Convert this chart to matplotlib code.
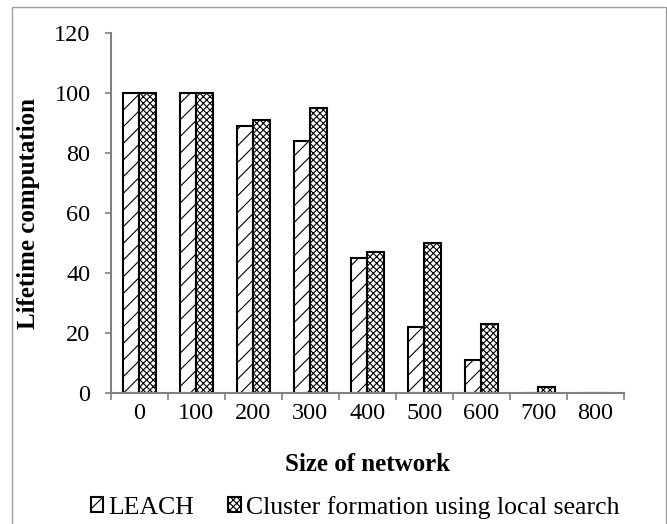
"""Lifetime computation vs size of network, grouped hatched bars"""
import matplotlib
matplotlib.use("Agg")
import matplotlib.pyplot as plt
import numpy as np
from matplotlib.patches import Rectangle

plt.rcParams['font.family'] = ['Liberation Serif', 'DejaVu Serif']
plt.rcParams['hatch.linewidth'] = 0.8

sizes = ['0', '100', '200', '300', '400', '500', '600', '700', '800']
leach = [100, 100, 89, 84, 45, 22, 11, 0, 0]
cluster = [100, 100, 91, 95, 47, 50, 23, 2, 0]

fig = plt.figure(figsize=(6.67, 5.24), dpi=100)
ax = fig.add_axes([0.166, 0.25, 0.7695, 0.687])

x = np.arange(len(sizes))
width = 0.29

ax.bar(x - width/2, leach, width, label='LEACH', color='white',
       edgecolor='black', linewidth=1.5, hatch='//')
ax.bar(x + width/2, cluster, width, label='Cluster formation using local search',
       color='white', edgecolor='black', linewidth=1.5, hatch='xxxxx')

ax.set_xlim(-0.5, len(sizes) - 0.5)
ax.set_ylim(0, 120)
ax.set_yticks(range(0, 121, 20))
ax.set_xticks(x)
ax.set_xticklabels(sizes)
ax.set_xticks(np.arange(-0.5, len(sizes), 1), minor=True)
ax.tick_params(axis='x', which='major', length=0, labelsize=17.5, pad=7)
ax.tick_params(axis='x', which='minor', length=5, color='#808080', width=1.2)
ax.tick_params(axis='y', length=4.5, color='#808080', width=1.2, labelsize=17.5, pad=10)

for s in ['top', 'right']:
    ax.spines[s].set_visible(False)
for s in ['left', 'bottom']:
    ax.spines[s].set_color('#808080')
    ax.spines[s].set_linewidth(1.5)

ax.set_xlabel('Size of network', fontsize=18, fontweight='bold', labelpad=21)
ax.set_ylabel('Lifetime computation', fontsize=18, fontweight='bold', labelpad=10)

ax.legend(loc='upper center', bbox_to_anchor=(0.4756, -0.286), ncol=2, frameon=False,
          fontsize=18.5, handlelength=0.5, handleheight=0.5, handletextpad=0.2,
          columnspacing=1.3, borderaxespad=0, borderpad=0)

fig.patches.append(Rectangle((0.018, -0.01), 0.9805, 0.9966, transform=fig.transFigure,
                             fill=False, edgecolor='#a0a0a0', linewidth=1))

fig.savefig('out.png', dpi=100)
